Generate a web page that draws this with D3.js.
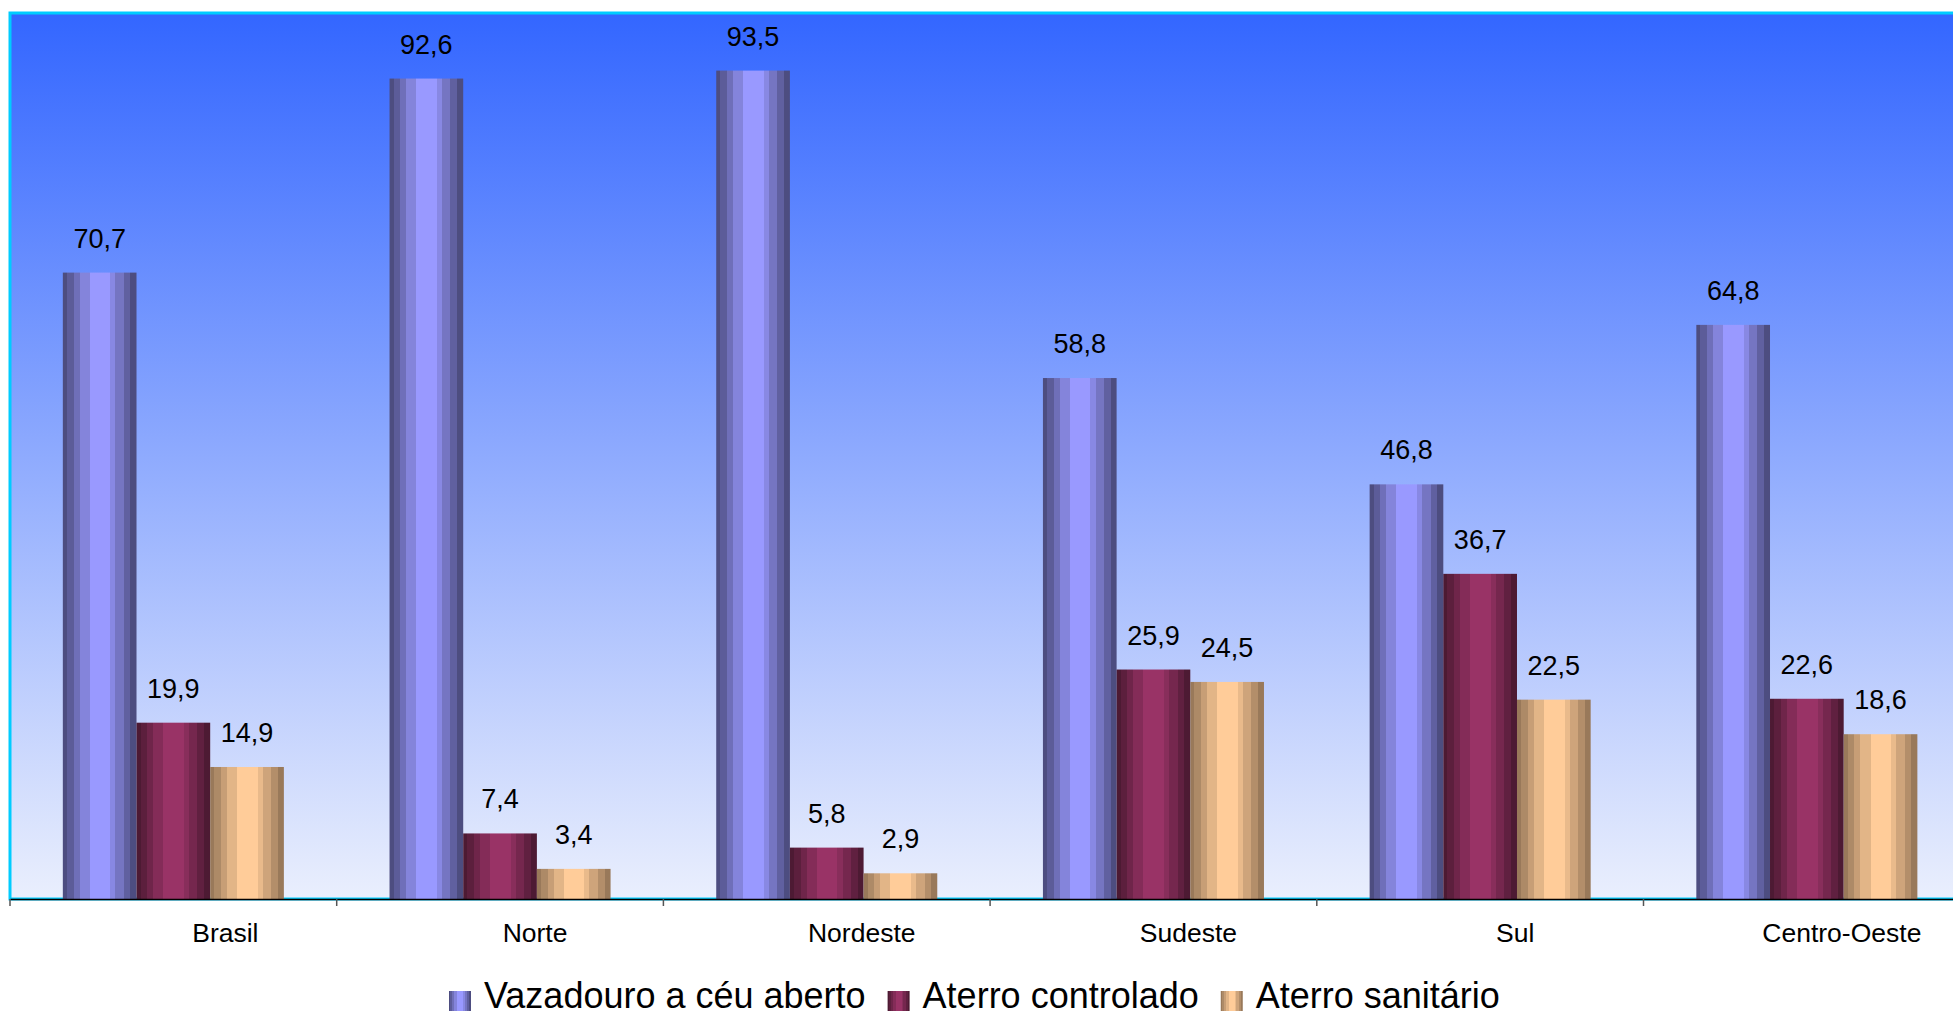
<!DOCTYPE html>
<html>
<head>
<meta charset="utf-8">
<script src="https://cdn.jsdelivr.net/npm/d3@7"></script>
<style>
  body { margin: 0; background: #fff; }
  svg { display: block; font-family: Arial, "Liberation Sans", sans-serif; }
</style>
</head>
<body>
<svg id="chart" width="1953" height="1016"></svg>
<script>
// data
const regions = ["Brasil", "Norte", "Nordeste", "Sudeste", "Sul", "Centro-Oeste"];
const seriesNames = ["Vazadouro a céu aberto", "Aterro controlado", "Aterro sanitário"];
const vazadouro = [70.7, 92.6, 93.5, 58.8, 46.8, 64.8];
const controlado = [19.9, 7.4, 5.8, 25.9, 36.7, 22.6];
const sanitario = [14.9, 3.4, 2.9, 24.5, 22.5, 18.6];

const seriesValues = [vazadouro, controlado, sanitario];
// edge / centre colours of the "cylinder" bars
const edgeColors = ["#4d4d80", "#4d1a33", "#99795a"];
const midColors = ["#9999ff", "#993366", "#ffcc99"];

const width = 1953, height = 1016;
const plot = { left: 10, top: 13, bottom: 899, right: 10 + 6 * 326.7 };

const svg = d3.select("#chart");
const defs = svg.append("defs");

// background gradient
const bg = defs.append("linearGradient")
  .attr("id", "bg").attr("x1", 0).attr("y1", 0).attr("x2", 0).attr("y2", 1);
bg.append("stop").attr("offset", "0%").attr("stop-color", "#3366ff");
bg.append("stop").attr("offset", "100%").attr("stop-color", "#eaeffd");

// banded horizontal gradients for bars
const bands = [[0, 0], [0.055, 0.2], [0.145, 0.45], [0.227, 0.72], [0.364, 1], [0.645, 0.78], [0.714, 0.52], [0.827, 0.25], [0.918, 0]];
seriesNames.forEach((s, i) => {
  const g = defs.append("linearGradient")
    .attr("id", "bar" + i).attr("x1", 0).attr("y1", 0).attr("x2", 1).attr("y2", 0);
  const mix = d3.interpolateRgb(edgeColors[i], midColors[i]);
  bands.forEach((b, k) => {
    const end = k < bands.length - 1 ? bands[k + 1][0] : 1;
    g.append("stop").attr("offset", b[0]).attr("stop-color", mix(b[1]));
    g.append("stop").attr("offset", end).attr("stop-color", mix(b[1]));
  });
});

// scales
const x0 = d3.scaleBand().domain(regions).range([plot.left, plot.right]).paddingInner(0).paddingOuter(0);
const x1 = d3.scaleBand().domain(seriesNames).range([0, x0.bandwidth()]).paddingInner(0).paddingOuter(0.717);
const y = d3.scaleLinear().domain([0, 100]).range([plot.bottom, plot.top]);

// plot area
svg.append("rect")
  .attr("x", plot.left).attr("y", plot.top)
  .attr("width", plot.right - plot.left).attr("height", plot.bottom - plot.top)
  .attr("fill", "url(#bg)")
  .attr("stroke", "#00ccff").attr("stroke-width", 3);

// bars
const groups = svg.append("g").selectAll("g")
  .data(regions)
  .join("g")
  .attr("transform", d => `translate(${x0(d)},0)`);

groups.selectAll("rect")
  .data((d, j) => seriesNames.map((s, i) => ({ s: s, i: i, v: seriesValues[i][j] })))
  .join("rect")
  .attr("x", d => x1(d.s))
  .attr("y", d => y(d.v))
  .attr("width", x1.bandwidth())
  .attr("height", d => y(0) - y(d.v))
  .attr("fill", d => "url(#bar" + d.i + ")");

groups.selectAll("text")
  .data((d, j) => seriesNames.map((s, i) => ({ s: s, i: i, v: seriesValues[i][j] })))
  .join("text")
  .attr("x", d => x1(d.s) + x1.bandwidth() / 2)
  .attr("y", d => y(d.v) - 25)
  .attr("text-anchor", "middle")
  .attr("font-size", 27)
  .attr("fill", "#000")
  .text(d => d3.format(".1f")(d.v).replace(".", ","));

// x axis
const axis = svg.append("g")
  .attr("transform", `translate(0,${plot.bottom})`)
  .call(d3.axisBottom(x0).tickSize(0).tickPadding(0));
axis.select(".domain").attr("stroke", "#000").attr("stroke-width", 1.5);
axis.selectAll(".tick text")
  .attr("y", 43).attr("dy", 0)
  .attr("x", (d, i) => i === 0 ? 52 : 35)   // labels sit right of the category centre
  .attr("font-size", 26.5)
  .attr("font-family", "Arial, 'Liberation Sans', sans-serif")
  .attr("fill", "#000");

// separators between categories
axis.selectAll(".sep")
  .data(regions.map(r => x0(r)).concat([plot.right]))
  .join("line")
  .attr("class", "sep")
  .attr("x1", d => d).attr("x2", d => d)
  .attr("y1", 0).attr("y2", 7)
  .attr("stroke", "#555").attr("stroke-width", 1.5);

// legend
const legend = svg.append("g");
let lx = 449;
seriesNames.forEach((s, i) => {
  legend.append("rect")
    .attr("x", lx).attr("y", 991)
    .attr("width", 22).attr("height", 20)
    .attr("fill", "url(#bar" + i + ")");
  const t = legend.append("text")
    .attr("x", lx + 35).attr("y", 1008)
    .attr("font-size", 36)
    .attr("fill", "#000")
    .text(s);
  lx = lx + 35 + t.node().getComputedTextLength() + 22;
});
</script>
</body>
</html>
